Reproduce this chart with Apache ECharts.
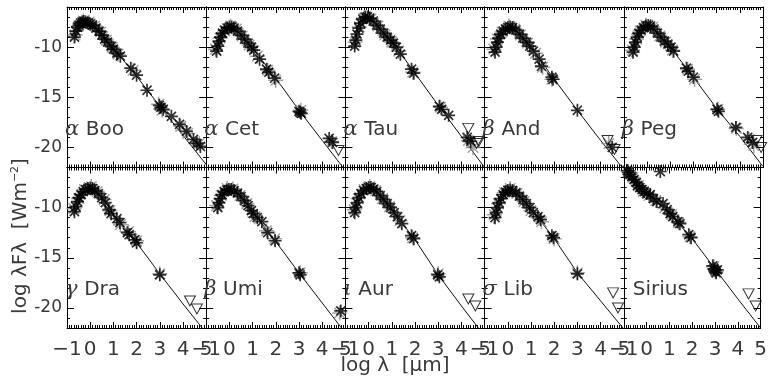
<!DOCTYPE html>
<html>
<head>
<meta charset="utf-8">
<script src="https://cdn.jsdelivr.net/npm/echarts@6.0.0/dist/echarts.min.js"></script>
<style>
    html, body {margin: 0; padding: 0; background: #fff;}
    #main {width: 770px; height: 379px;}
</style>
</head>
<body>
<div id="main"></div>
<script>
// star names (greek letter + constellation)
const starGreek = ['α', 'α', 'α', 'β', 'β', 'γ', 'β', 'ι', 'σ', ''];
const starName = ['Boo', 'Cet', 'Tau', 'And', 'Peg', 'Dra', 'Umi', 'Aur', 'Lib', 'Sirius'];

// axis ranges / tick labels
const xRange = [-1, 5];
const yRange = [-22, -6];
const yMajor = [-20, -15, -10];

// observed photometry (black asterisks), [log lambda, log lambdaF]
const obsData = [
    [[-0.68, -9.0], [-0.62, -8.4], [-0.55, -8.0], [-0.48, -7.8], [-0.42, -7.6], [-0.35, -7.5], [-0.28, -7.45], [-0.2, -7.5], [-0.1, -7.6], [0.0, -7.7], [0.1, -7.8], [0.25, -8.1], [0.38, -8.4], [0.5, -8.8], [0.62, -9.2], [0.75, -9.5], [0.9, -9.9], [1.0, -10.2], [1.15, -10.6], [1.3, -10.9], [1.75, -12.1], [2.0, -12.8], [2.45, -14.3], [2.98, -15.8], [3.05, -16.0], [3.15, -16.2], [3.5, -16.9], [3.85, -17.7], [4.15, -18.4], [4.45, -19.2], [4.6, -19.6], [4.75, -19.9]],
    [[-0.55, -10.4], [-0.5, -9.9], [-0.45, -9.4], [-0.38, -9.0], [-0.3, -8.6], [-0.2, -8.3], [-0.1, -8.1], [0.0, -8.0], [0.1, -8.0], [0.2, -8.1], [0.35, -8.4], [0.5, -8.8], [0.65, -9.2], [0.8, -9.6], [0.95, -10.0], [1.05, -10.3], [1.3, -11.2], [1.6, -12.2], [1.7, -12.5], [1.95, -13.1], [3.0, -16.4], [3.05, -16.5], [3.1, -16.6], [4.3, -19.1], [4.45, -19.5]],
    [[-0.6, -9.9], [-0.55, -9.3], [-0.5, -8.7], [-0.42, -8.1], [-0.35, -7.6], [-0.25, -7.2], [-0.15, -7.0], [-0.05, -7.0], [0.05, -7.1], [0.2, -7.4], [0.35, -7.8], [0.5, -8.2], [0.65, -8.6], [0.8, -9.0], [0.95, -9.3], [1.07, -9.6], [1.2, -10.0], [1.37, -10.7], [1.85, -12.2], [1.95, -12.6], [3.05, -15.9], [3.15, -16.2], [3.45, -16.8], [4.25, -19.0], [4.4, -19.4]],
    [[-0.55, -10.5], [-0.5, -10.0], [-0.45, -9.5], [-0.4, -9.1], [-0.3, -8.7], [-0.2, -8.4], [-0.1, -8.2], [0.0, -8.05], [0.1, -8.0], [0.2, -8.05], [0.35, -8.3], [0.5, -8.7], [0.65, -9.1], [0.8, -9.5], [0.95, -9.9], [1.1, -10.4], [1.35, -11.2], [1.45, -11.9], [1.9, -13.0], [1.95, -13.2], [3.0, -16.3], [4.5, -20.0]],
    [[-0.6, -10.5], [-0.55, -10.0], [-0.5, -9.5], [-0.42, -9.0], [-0.35, -8.6], [-0.25, -8.3], [-0.15, -8.05], [-0.05, -7.9], [0.05, -7.85], [0.15, -7.9], [0.3, -8.2], [0.45, -8.6], [0.6, -9.0], [0.75, -9.4], [0.9, -9.7], [1.03, -10.0], [1.15, -10.4], [1.7, -12.1], [1.78, -12.4], [2.0, -13.0], [3.02, -16.2], [3.08, -16.4], [3.83, -18.0], [4.34, -19.0], [4.55, -19.5]],
    [[-0.68, -10.4], [-0.62, -9.9], [-0.55, -9.4], [-0.48, -9.0], [-0.4, -8.7], [-0.3, -8.4], [-0.2, -8.2], [-0.1, -8.1], [0.0, -8.05], [0.1, -8.1], [0.2, -8.3], [0.35, -8.6], [0.5, -9.0], [0.65, -9.5], [0.8, -10.2], [0.9, -10.6], [1.15, -11.1], [1.28, -11.5], [1.6, -12.5], [1.68, -12.7], [1.93, -13.2], [2.0, -13.5], [3.0, -16.7]],
    [[-0.5, -10.0], [-0.45, -9.5], [-0.4, -9.1], [-0.32, -8.7], [-0.22, -8.4], [-0.12, -8.25], [-0.02, -8.2], [0.08, -8.2], [0.2, -8.3], [0.35, -8.55], [0.5, -8.9], [0.65, -9.3], [0.8, -9.8], [0.95, -10.3], [1.03, -10.6], [1.2, -11.0], [1.4, -11.4], [1.65, -12.5], [1.97, -13.3], [3.0, -16.5], [3.05, -16.7], [4.8, -20.3]],
    [[-0.6, -10.5], [-0.55, -10.0], [-0.5, -9.5], [-0.42, -9.0], [-0.33, -8.6], [-0.22, -8.3], [-0.1, -8.1], [0.0, -8.0], [0.1, -8.0], [0.22, -8.15], [0.35, -8.4], [0.5, -8.8], [0.65, -9.2], [0.8, -9.6], [0.95, -10.0], [1.1, -10.5], [1.25, -10.9], [1.43, -11.6], [1.85, -12.8], [1.95, -13.1], [2.98, -16.7], [3.05, -16.9]],
    [[-0.55, -11.0], [-0.5, -10.5], [-0.45, -10.0], [-0.38, -9.5], [-0.3, -9.1], [-0.2, -8.7], [-0.1, -8.45], [0.0, -8.3], [0.1, -8.25], [0.2, -8.3], [0.35, -8.5], [0.5, -8.85], [0.65, -9.2], [0.8, -9.6], [0.95, -10.0], [1.1, -10.5], [1.3, -10.9], [1.41, -11.2], [1.9, -12.8], [1.97, -13.0], [3.0, -16.6]],
    [[-0.85, -6.3], [-0.8, -6.5], [-0.73, -6.7], [-0.65, -6.9], [-0.55, -7.2], [-0.45, -7.5], [-0.4, -7.8], [-0.3, -8.0], [-0.2, -8.2], [-0.1, -8.4], [0.0, -8.6], [0.16, -8.7], [0.3, -9.1], [0.45, -9.4], [0.6, -6.4], [0.72, -9.6], [0.9, -10.2], [1.03, -10.6], [1.15, -10.9], [1.37, -11.4], [1.46, -11.6], [1.85, -12.7], [1.95, -13.0], [2.9, -15.8], [2.95, -16.1], [3.0, -16.3], [3.05, -16.5], [3.1, -16.2]]
];

// second data set (grey asterisks)
const greyData = [
    [[-0.65, -8.8], [-0.5, -7.9], [-0.3, -7.4], [-0.05, -7.5], [0.2, -7.9], [0.45, -8.5], [0.7, -9.3], [0.95, -10.0], [1.2, -10.7], [1.85, -12.3], [2.95, -15.7], [3.1, -16.3], [3.9, -17.9], [4.2, -18.6], [4.7, -19.6]],
    [[-0.6, -10.2], [-0.4, -9.1], [-0.2, -8.4], [0.05, -7.9], [0.3, -8.2], [0.55, -8.9], [0.85, -9.8], [1.2, -10.9], [1.65, -12.3], [2.0, -13.3], [3.08, -16.3], [4.4, -19.4]],
    [[-0.58, -9.5], [-0.4, -8.0], [-0.2, -7.1], [0.1, -7.2], [0.4, -7.9], [0.7, -8.8], [1.0, -9.5], [1.3, -10.4], [1.9, -12.5], [3.1, -16.0], [4.3, -19.3], [4.5, -20.0]],
    [[-0.6, -10.2], [-0.45, -9.2], [-0.25, -8.5], [0.05, -7.9], [0.3, -8.2], [0.55, -8.8], [0.85, -9.6], [1.2, -10.6], [1.5, -12.0], [1.9, -13.2], [4.35, -19.6]],
    [[-0.62, -10.3], [-0.45, -9.2], [-0.3, -8.4], [-0.05, -7.8], [0.25, -8.0], [0.55, -8.9], [0.8, -9.5], [1.1, -10.3], [1.75, -12.2], [2.05, -13.2], [3.05, -16.2], [3.85, -18.1], [4.4, -19.2], [4.6, -19.8]],
    [[-0.7, -10.1], [-0.5, -9.1], [-0.25, -8.2], [0.05, -7.9], [0.3, -8.4], [0.6, -9.2], [0.85, -10.3], [1.3, -11.7], [1.65, -12.4], [2.0, -13.3], [3.0, -16.6]],
    [[-0.55, -9.8], [-0.35, -8.8], [-0.1, -8.1], [0.15, -8.15], [0.45, -8.8], [0.75, -9.6], [1.1, -10.9], [1.6, -12.3], [1.95, -13.1], [3.05, -16.5], [4.75, -20.5]],
    [[-0.62, -10.2], [-0.45, -9.1], [-0.2, -8.2], [0.05, -7.9], [0.3, -8.3], [0.6, -9.1], [0.9, -9.9], [1.35, -11.3], [1.9, -13.0], [3.0, -16.6]],
    [[-0.58, -10.7], [-0.4, -9.6], [-0.15, -8.5], [0.1, -8.1], [0.4, -8.6], [0.7, -9.4], [1.0, -10.3], [1.45, -11.4], [2.0, -13.1], [3.0, -16.5]],
    [[-0.8, -6.4], [-0.6, -7.0], [-0.35, -7.8], [-0.15, -8.4], [0.1, -8.8], [0.4, -9.3], [0.8, -10.0], [1.1, -10.7], [1.4, -11.5], [1.9, -12.9], [2.95, -15.9], [3.05, -16.4]]
];

// upper limits (open triangles)
const limitData = [
    [],
    [[4.7, -20.3]],
    [[4.3, -18.1], [4.65, -19.6], [4.75, -19.4]],
    [[4.3, -19.3], [4.6, -20.2]],
    [[4.72, -19.3], [4.92, -20.0]],
    [[4.3, -19.3], [4.6, -20.1]],
    [],
    [[4.3, -19.1], [4.6, -19.8]],
    [[4.54, -18.5], [4.75, -20.0]],
    [[4.47, -18.6], [4.78, -19.8]]
];

// model SED (thin line)
const modelData = [
    [[-0.7, -9.2], [-0.55, -8.2], [-0.4, -7.7], [-0.25, -7.55], [-0.1, -7.6], [0.1, -7.85], [0.3, -8.3], [0.6, -9.1], [1.0, -10.2], [1.5, -11.5], [2, -12.9], [3, -15.9], [4, -18.8], [5, -21.7]],
    [[-0.6, -10.8], [-0.45, -9.3], [-0.3, -8.6], [-0.15, -8.2], [0.0, -8.05], [0.15, -8.05], [0.35, -8.4], [0.6, -9.0], [1.0, -10.1], [1.5, -11.6], [2, -13.1], [3, -16.3], [4, -19.3], [5, -22.3]],
    [[-0.62, -10.2], [-0.5, -8.6], [-0.35, -7.6], [-0.2, -7.1], [-0.05, -7.0], [0.15, -7.25], [0.4, -7.9], [0.7, -8.8], [1.0, -9.6], [1.5, -11.0], [2, -12.6], [3, -15.8], [4, -18.9], [5, -22.0]],
    [[-0.6, -10.9], [-0.45, -9.3], [-0.3, -8.6], [-0.1, -8.15], [0.1, -8.0], [0.3, -8.2], [0.6, -9.0], [1.0, -10.1], [1.5, -11.6], [2, -13.2], [3, -16.3], [4, -19.3], [5, -22.2]],
    [[-0.65, -11.0], [-0.5, -9.4], [-0.35, -8.5], [-0.15, -8.0], [0.05, -7.85], [0.25, -8.05], [0.6, -9.0], [1.0, -10.0], [1.5, -11.5], [2, -13.0], [3, -16.1], [4, -18.9], [5, -21.9]],
    [[-0.72, -10.8], [-0.55, -9.3], [-0.35, -8.5], [-0.15, -8.15], [0.05, -8.05], [0.25, -8.3], [0.6, -9.3], [1.0, -10.6], [1.5, -12.1], [2, -13.5], [3, -16.6], [4, -19.6], [5, -22.5]],
    [[-0.55, -10.6], [-0.4, -9.2], [-0.2, -8.45], [0.0, -8.2], [0.2, -8.3], [0.5, -8.9], [1.0, -10.4], [1.5, -11.9], [2, -13.4], [3, -16.5], [4, -19.5], [5, -22.5]],
    [[-0.65, -11.0], [-0.5, -9.4], [-0.3, -8.5], [-0.1, -8.1], [0.1, -8.0], [0.3, -8.3], [0.6, -9.1], [1.0, -10.2], [1.5, -11.7], [2, -13.2], [3, -16.7], [4, -19.8], [5, -22.8]],
    [[-0.6, -11.6], [-0.45, -9.9], [-0.25, -8.9], [-0.05, -8.35], [0.1, -8.25], [0.3, -8.45], [0.6, -9.1], [1.0, -10.2], [1.5, -11.6], [2, -13.1], [3, -16.5], [4, -19.3], [5, -22.1]],
    [[-0.9, -6.0], [0, -8.5], [1, -10.6], [2, -13.1], [3, -16.1], [4, -19.1], [5, -22.0]]
];

const STAR = 'path://M5,0L5,10M0,5L10,5M1.5,1.5L8.5,8.5M1.5,8.5L8.5,1.5';
const TRI = 'path://M0,0L10,0L5,9Z';
const PANEL_W = 139.2, PANEL_H = 160.5, LEFT0 = 67, TOP0 = 7;
const TXT = '#3a3a3a';

const grids = [], xAxes = [], yAxes = [], series = [], graphics = [];

starName.forEach((name, i) => {
    const col = i % 5, row = Math.floor(i / 5);
    const left = LEFT0 + col * PANEL_W, top = TOP0 + row * PANEL_H;
    grids.push({left: left, top: top, width: PANEL_W, height: PANEL_H});

    const xBase = {
        gridIndex: i, type: 'value', min: xRange[0], max: xRange[1], interval: 1,
        axisLine: {show: true, onZero: false, lineStyle: {color: '#000', width: 1}},
        axisTick: {show: true, inside: true, length: 6, lineStyle: {color: '#000'}},
        minorTick: {show: true, splitNumber: 10, length: 3, lineStyle: {color: '#000'}},
        splitLine: {show: false}
    };
    xAxes.push(Object.assign({}, xBase, {
        position: 'bottom',
        axisLabel: {
            show: row === 1, fontSize: 20, color: TXT, fontFamily: 'DejaVu Sans', margin: 12,
            formatter: v => v < 0 ? '\u2212' + (-v) : String(v)
        }
    }));
    xAxes.push(Object.assign({}, xBase, {position: 'top', axisLabel: {show: false}}));

    const yBase = {
        gridIndex: i, type: 'value', min: yRange[0], max: yRange[1], interval: 1,
        axisLine: {show: true, onZero: false, lineStyle: {color: '#000', width: 1}},
        axisTick: {show: true, inside: true, length: 3, lineStyle: {color: '#000'}},
        splitLine: {show: false}
    };
    const majorTick = {show: true, inside: true, length: 7, customValues: yMajor, lineStyle: {color: '#000'}};
    //左侧数据轴 + 主刻度
    yAxes.push(Object.assign({}, yBase, {
        position: 'left',
        axisLabel: {
            show: col === 0, fontSize: 17, color: TXT, fontFamily: 'DejaVu Sans', margin: 5,
            formatter: v => yMajor.includes(v) ? String(v) : ''
        }
    }));
    yAxes.push(Object.assign({}, yBase, {
        position: 'left', axisLine: {show: false, onZero: false}, axisLabel: {show: false}, axisTick: majorTick
    }));
    //右侧
    yAxes.push(Object.assign({}, yBase, {position: 'right', axisLabel: {show: false}}));
    yAxes.push(Object.assign({}, yBase, {
        position: 'right', axisLine: {show: false, onZero: false}, axisLabel: {show: false}, axisTick: majorTick
    }));

    const ax = {xAxisIndex: 2 * i, yAxisIndex: 4 * i};
    series.push(Object.assign({
        type: 'line', data: modelData[i], showSymbol: false, symbol: 'none', clip: true, z: 2,
        lineStyle: {color: '#111', width: 1}
    }, ax));
    series.push(Object.assign({
        type: 'scatter', data: greyData[i], symbol: STAR, symbolSize: 15, clip: false, z: 3,
        itemStyle: {color: 'rgba(0,0,0,0)', borderColor: '#8c8c8c', borderWidth: 1.5}
    }, ax));
    series.push(Object.assign({
        type: 'scatter', data: obsData[i], symbol: STAR, symbolSize: 13, clip: false, z: 4,
        itemStyle: {color: 'rgba(0,0,0,0)', borderColor: '#000', borderWidth: 1.7}
    }, ax));
    series.push(Object.assign({
        type: 'scatter', data: limitData[i], symbol: TRI, symbolSize: [11, 10], clip: false, z: 5,
        itemStyle: {color: 'rgba(255,255,255,0)', borderColor: '#000', borderWidth: 1}
    }, ax));

    // star label
    const label = starGreek[i] ? '{g|' + starGreek[i] + '}  {n|' + name + '}' : '{n|' + name + '}';
    graphics.push({
        type: 'text', left: left + (starGreek[i] ? -2 : 9), top: top + 112, z: 10,
        style: {
            text: label,
            rich: {
                g: {fontFamily: 'DejaVu Serif', fontStyle: 'italic', fontSize: 21, fill: TXT},
                n: {fontFamily: 'DejaVu Sans', fontSize: 20, fill: TXT}
            }
        }
    });
});

// axis titles
graphics.push({
    type: 'text', x: 21, y: 236, rotation: Math.PI / 2, z: 10,
    style: {
        text: '{a|log λFλ  [Wm}{s|−2}{a|]}', align: 'center', verticalAlign: 'middle',
        rich: {
            a: {fontFamily: 'DejaVu Sans', fontSize: 20, fill: TXT, lineHeight: 22},
            s: {fontFamily: 'DejaVu Sans', fontSize: 11, fill: TXT, lineHeight: 12, verticalAlign: 'top'}
        }
    }
});
graphics.push({
    type: 'text', x: 395, y: 366, z: 10,
    style: {
        text: 'log λ  [μm]', align: 'center', verticalAlign: 'middle',
        font: '20px "DejaVu Sans"', fill: TXT
    }
});

const chart = echarts.init(document.getElementById('main'));
chart.setOption({
    animation: false,
    backgroundColor: '#fff',
    grid: grids,
    xAxis: xAxes,
    yAxis: yAxes,
    series: series,
    graphic: graphics
});
</script>
</body>
</html>
